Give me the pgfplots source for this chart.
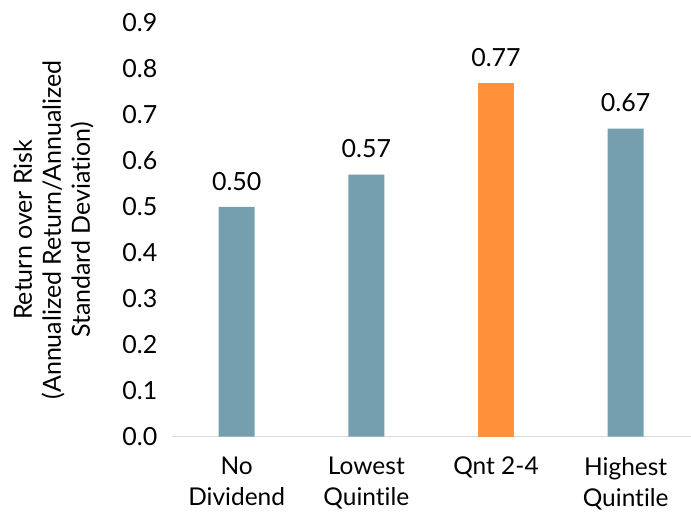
\documentclass[border=0pt]{standalone}
\usepackage{pgfplots}
\pgfplotsset{compat=1.18}
\usepackage{fontspec}
\setmainfont{Lato}[Ligatures=NoCommon]
\definecolor{barblue}{HTML}{759FAF}
\definecolor{barorange}{HTML}{FF913A}
\definecolor{axisgray}{HTML}{D9D9D9}
\begin{document}
\begin{tikzpicture}
\begin{axis}[
  name=ax,
  scale only axis,
  width=519pt, height=414pt,
  ybar, bar width=36pt, bar shift=0pt,
  xmin=-0.5, xmax=3.5,
  ymin=0, ymax=0.9,
  ytick={0,0.1,...,0.9},
  xtick={0,1,2,3},
  xticklabels={No\\Dividend, Lowest\\Quintile, Qnt 2-4, Highest\\Quintile},
  x tick label style={align=center, font=\fontsize{24.5}{31}\selectfont, anchor=north, yshift=-17pt},
  y tick label style={font=\fontsize{25}{28}\selectfont, xshift=-11pt},
  /pgf/number format/assume math mode=true,
  yticklabel style={/pgf/number format/fixed, /pgf/number format/fixed zerofill, /pgf/number format/precision=1},
  major tick length=0pt,
  axis x line*=bottom, axis y line*=left,
  x axis line style={draw=axisgray, line width=1pt},
  y axis line style={draw=none},
  ylabel={Return over Risk\\(Annualized Return/Annualized\\Standard Deviation)},
  every axis y label/.style={at={(rel axis cs:0,0.5)}, xshift=-162pt, rotate=90,
    anchor=north, align=center, font=\fontsize{25}{29}\selectfont},
  nodes near coords,
  nodes near coords style={font=\fontsize{25}{28}\selectfont, yshift=13pt,
    /pgf/number format/fixed, /pgf/number format/fixed zerofill, /pgf/number format/precision=2},
]
\addplot[fill=barblue, draw=none] coordinates {(0,0.50) (1,0.57) (3,0.67)};
\addplot[fill=barorange, draw=none] coordinates {(2,0.77)};
\end{axis}
\path[use as bounding box] (-172pt,-77pt) rectangle (519pt,437pt);
\end{tikzpicture}
\end{document}
